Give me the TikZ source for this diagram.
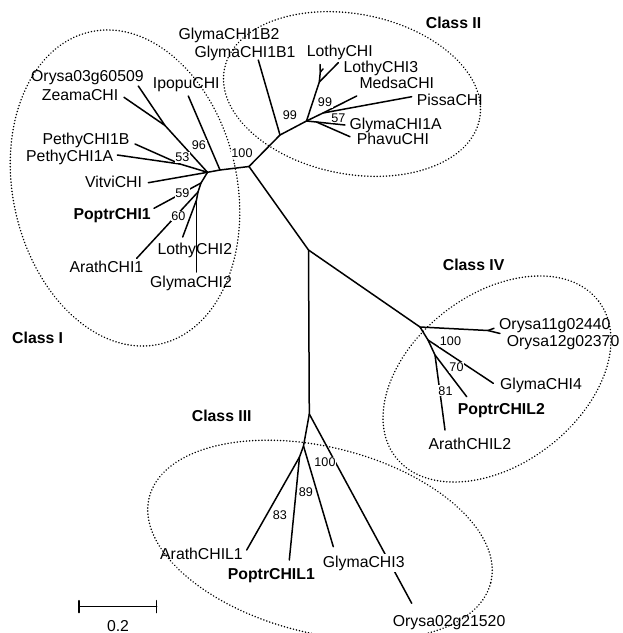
\documentclass[tikz,border=0pt]{standalone}
\usepackage{fontspec}
\setmainfont{Liberation Sans}
\begin{document}
\begin{tikzpicture}[x=1pt,y=-1pt,
  br/.style={line width=1.5pt, line cap=round, line join=round},
  cls/.style={line width=1.6pt, dash pattern=on 0.1pt off 3pt, line cap=round},
  lab/.style={anchor=base west, inner sep=0pt, font=\fontsize{15.8}{18}\selectfont},
  blab/.style={lab, font=\fontsize{15.8}{18}\selectfont\bfseries},
  bs/.style={fill=white, inner sep=0.8pt, font=\fontsize{12.6}{14}\selectfont},
]
\useasboundingbox (0,0) rectangle (623,633);

% class ellipses
\draw[cls, rotate around={12.6:(125,188)}] (125,188) ellipse [x radius=112pt, y radius=160pt];
\draw[cls, rotate around={-11:(352,94)}] (352,94) ellipse [x radius=130pt, y radius=80pt];
\draw[cls, rotate around={37.5:(497,379)}] (497,379) ellipse [x radius=128pt, y radius=85pt];
\draw[cls, rotate around={-14:(320,540)}] (320,540) ellipse [x radius=176pt, y radius=93pt];

% internal nodes
\coordinate (C0) at (249,166.5);
\coordinate (A) at (220,170);
\coordinate (H1) at (207.5,172.3);
\coordinate (J1) at (165,125.5);
\coordinate (J2) at (180,164);
\coordinate (N1) at (201,183);
\coordinate (N2) at (198,192);
\coordinate (N3) at (196.5,200);
\coordinate (B1) at (280,135);
\coordinate (B2) at (306.5,121);
\coordinate (L) at (319.3,82);
\coordinate (L2) at (320.3,72);
\coordinate (M) at (323,113);
\coordinate (G1) at (316.5,122);
\coordinate (D) at (308.5,250);
\coordinate (E) at (420,327);
\coordinate (E2) at (428,340);
\coordinate (E3) at (435,355);
\coordinate (Eo) at (488,330.5);
\coordinate (F) at (309.3,414);
\coordinate (G) at (303.5,446);
\coordinate (H) at (299.5,457);

% leaf tips
\coordinate (lOry3) at (138.3,86);
\coordinate (lZea) at (124,97.3);
\coordinate (lIpo) at (188.3,96);
\coordinate (lPeB) at (135,144);
\coordinate (lPeA) at (117.3,155);
\coordinate (lVit) at (148.3,182.7);
\coordinate (lPop1) at (154,208.3);
\coordinate (lAra1) at (136.7,258.3);
\coordinate (lLot2) at (182.7,237);
\coordinate (lGly2) at (196.5,272);
\coordinate (lGB1) at (258.3,60);
\coordinate (lLot) at (320,64.5);
\coordinate (lLotb) at (323,69);
\coordinate (lLot3) at (338.3,62.7);
\coordinate (lMed) at (356.7,96);
\coordinate (lPis) at (411.7,96.7);
\coordinate (lG1A) at (345,125);
\coordinate (lPha) at (350,136.7);
\coordinate (lO11) at (494,328.3);
\coordinate (lO12) at (500,333.5);
\coordinate (lG4) at (493.3,383.3);
\coordinate (lPL2) at (466.7,396.7);
\coordinate (lAL2) at (445,430);
\coordinate (lO02) at (411.7,603.3);
\coordinate (lG3) at (333.3,546.7);
\coordinate (lPL1) at (289.3,560);
\coordinate (lAL1) at (246.7,550);

% branches
\draw[br] (C0) -- (A) -- (H1);
\draw[br] (A) -- (lIpo);
\draw[br] (H1) -- (J1) -- (lOry3);
\draw[br] (J1) -- (lZea);
\draw[br] (H1) -- (J2) -- (lPeB);
\draw[br] (J2) -- (lPeA);
\draw[br] (H1) -- (lVit);
\draw[br] (H1) -- (N1) -- (lPop1);
\draw[br] (N1) -- (N2) -- (lAra1);
\draw[br] (N2) -- (N3) -- (lLot2);
\draw[br] (N3) -- (lGly2);
\draw[br] (C0) -- (B1) -- (lGB1);
\draw[br] (B1) -- (B2) -- (L) -- (L2) -- (lLot);
\draw[br] (L2) -- (lLotb);
\draw[br] (L) -- (lLot3);
\draw[br] (B2) -- (M) -- (lMed);
\draw[br] (M) -- (lPis);
\draw[br] (B2) -- (G1) -- (lG1A);
\draw[br] (G1) -- (lPha);
\draw[br] (C0) -- (D) -- (E) -- (Eo) -- (lO11);
\draw[br] (Eo) -- (lO12);
\draw[br] (E) -- (E2) -- (lG4);
\draw[br] (E2) -- (E3) -- (lPL2);
\draw[br] (E3) -- (lAL2);
\draw[br] (D) -- (F) -- (lO02);
\draw[br] (F) -- (G) -- (lG3);
\draw[br] (G) -- (H) -- (lPL1);
\draw[br] (H) -- (lAL1);

% scale bar
\coordinate (s1) at (79,606.7);
\coordinate (s2) at (156.7,606.7);
\coordinate (s1a) at (79,600.7);
\coordinate (s1b) at (79,612.5);
\coordinate (s2a) at (156.7,600.7);
\coordinate (s2b) at (156.7,612.5);
\draw[br] (s1) -- (s2);
\draw[br] (s1a) -- (s1b);
\draw[br] (s2a) -- (s2b);
\node[anchor=base, inner sep=0pt, font=\fontsize{15.8}{18}\selectfont] (sc) at (118,631) {0.2};

% Class I labels
\node[lab] (tGB2) at (178.3,39.5) {GlymaCHI1B2};
\node[lab] (tGB1) at (194.3,57.9) {GlymaCHI1B1};
\node[lab] (tOry3) at (31,81.9) {Orysa03g60509};
\node[lab] (tZea) at (41.7,100.5) {ZeamaCHI};
\node[lab] (tIpo) at (152.7,88.5) {IpopuCHI};
\node[lab] (tPeB) at (42.3,144.5) {PethyCHI1B};
\node[lab] (tPeA) at (26,161.2) {PethyCHI1A};
\node[lab] (tVit) at (85,187.9) {VitviCHI};
\node[blab] (tPop1) at (73.3,219.5) {PoptrCHI1};
\node[lab] (tLot2) at (157.3,254.5) {LothyCHI2};
\node[lab] (tAra1) at (69.3,272.9) {ArathCHI1};
\node[lab] (tGly2) at (150,287.9) {GlymaCHI2};
\node[blab] (cI) at (12,343) {Class I};

% Class II labels
\node[lab] (tLot) at (306.7,56.9) {LothyCHI};
\node[lab] (tLot3) at (343.3,72.9) {LothyCHI3};
\node[lab] (tMed) at (359.3,88.9) {MedsaCHI};
\node[lab] (tPis) at (416.7,105.5) {PissaCHI};
\node[lab] (tG1A) at (349.3,129.5) {GlymaCHI1A};
\node[lab] (tPha) at (356.7,144.5) {PhavuCHI};
\node[blab] (cII) at (425.7,28.5) {Class II};

% Class IV labels
\node[blab] (cIV) at (442.7,270.2) {Class IV};
\node[lab] (tO11) at (499,329.2) {Orysa11g02440};
\node[lab] (tO12) at (506.7,346.2) {Orysa12g02370};
\node[lab] (tG4) at (500,389.5) {GlymaCHI4};
\node[blab] (tPL2) at (457.7,414.5) {PoptrCHIL2};
\node[lab] (tAL2) at (428.3,449.5) {ArathCHIL2};

% Class III labels
\node[blab] (cIII) at (191.7,421.2) {Class III};
\node[lab] (tAL1) at (160,559.5) {ArathCHIL1};
\node[blab] (tPL1) at (227.7,579.5) {PoptrCHIL1};
\node[lab, fill=white, inner sep=2pt] (tG3) at (320.7,567.2) {GlymaCHI3};
\node[lab] (tO02) at (392.7,626.2) {Orysa02g21520};

% bootstrap values
\node[bs] (b96) at (199,145.3) {96};
\node[bs] (b53) at (182.5,157.5) {53};
\node[bs] (b100a) at (242,153) {100};
\node[bs] (b59) at (182.5,192.8) {59};
\node[bs] (b60) at (178.5,216) {60};
\node[bs] (b99a) at (290,115) {99};
\node[bs] (b99b) at (325,102.5) {99};
\node[bs] (b57) at (338.5,118) {57};
\node[bs] (b100b) at (450.5,341.3) {100};
\node[bs] (b70) at (456.5,367.5) {70};
\node[bs] (b81) at (445.5,390.7) {81};
\node[bs] (b100c) at (325,462) {100};
\node[bs] (b89) at (306,491.7) {89};
\node[bs] (b83) at (280,515) {83};
\end{tikzpicture}
\end{document}
